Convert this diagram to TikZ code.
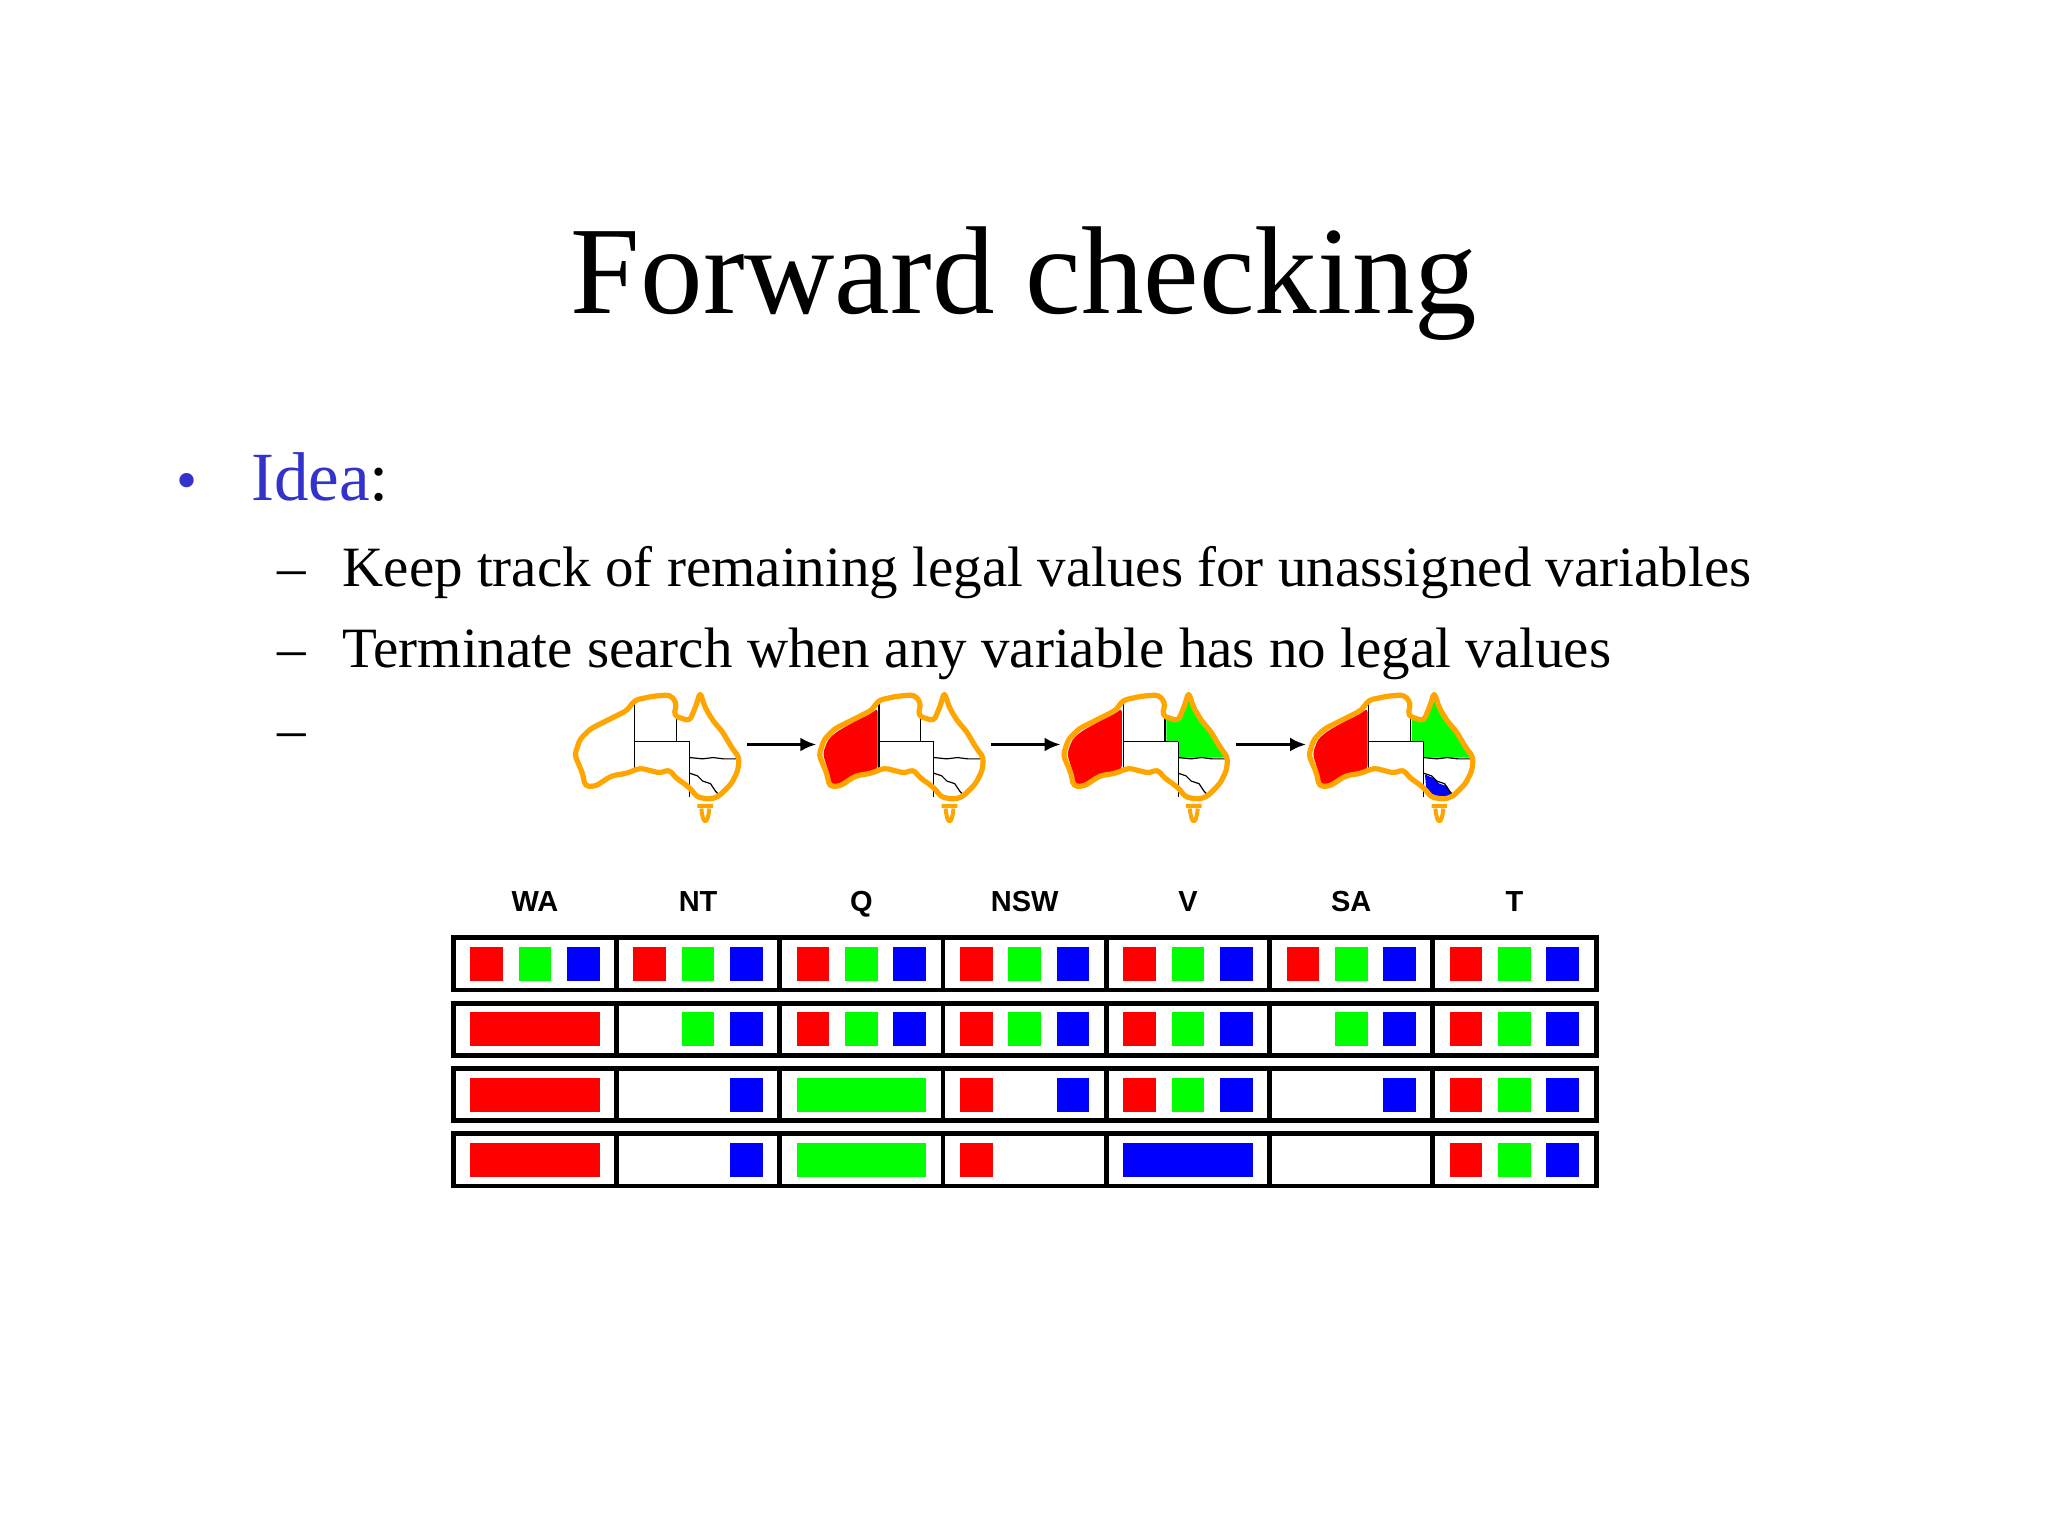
\documentclass[tikz,border=0pt]{standalone}
\usepackage{fontspec}
\setmainfont{Liberation Serif}
\newfontfamily\lsans{Liberation Sans}
\usetikzlibrary{arrows.meta}
\definecolor{ora}{RGB}{255,165,0}
\definecolor{rr}{RGB}{255,0,0}
\definecolor{gg}{RGB}{0,255,0}
\definecolor{bb}{RGB}{0,0,255}
\definecolor{idea}{RGB}{51,51,204}
\newcommand{\mapoutline}{(2,48)--(6,36)--(14,28)--(30,20)--(42,14)--(48,6)--(62,3)--(75,2)--(80,8)--(78,18)--(90,22)--(95,10)--(98,0)--(102,12)--(108,22)--(115,30)--(122,42)--(128,50)--(127,60)--(122,70)--(112,80)--(105,82)--(95,80)--(92,75)--(86,70)--(80,66)--(74,59)--(68,62)--(60,60)--(52,58)--(42,62)--(30,64)--(18,72)--(10,72)--(8,62)--cycle}
\newcommand{\mapborders}{%
 \draw[black,line width=0.6pt] (48,8)--(48,61) (48,38)--(90,38) (80,16)--(80,38) (90,38)--(90,80);
 \draw[black,line width=0.6pt] (90,50)--(100,51)--(108,50)--(116,51)--(127,51);
 \draw[black,line width=0.6pt] (90,62)--(96,64)--(100,68)--(106,70)--(110,76)--(114,80);}
\tikzset{
 mapline/.style={draw=ora,line width=2.6pt,line join=round,rounded corners=2pt},
 cellbox/.style={draw=black,line width=2.4pt},
 lbl/.style={font=\lsans\bfseries\fontsize{14.5}{16}\selectfont},
 mapar/.style={-{Latex[length=8pt,width=7pt]},line width=1.8pt},
 body/.style={anchor=base west,inner sep=0pt,font=\fontsize{28.5}{32}\selectfont}
}
\begin{document}
\begin{tikzpicture}[x=0.653pt,y=-0.653pt]
\useasboundingbox (0,0) rectangle (1568,1176);
\node[anchor=base,font=\fontsize{62.5}{66}\selectfont] (title) at (784,240) {Forward checking};
\node[anchor=base,text=idea,font=\fontsize{30}{32}\selectfont] (bul) at (143,383) {•};
\node[anchor=base west,inner sep=0pt,font=\fontsize{34.5}{38}\selectfont] (idea) at (192,383) {\textcolor{idea}{Idea}:};
\node[body] (d1) at (212,449) {–};
\node[body] (t1) at (262,449) {Keep track of remaining legal values for unassigned variables};
\node[body] (d2) at (212,511) {–};
\node[body] (t2) at (262,511) {Terminate search when any variable has no legal values};
\node[body] (d3) at (212,573) {–};
% maps
\foreach \k/\ox in {0/438,1/625,2/812,3/1000}{
 \begin{scope}[shift={(\ox,530)}]
  \fill[white] \mapoutline;
  \ifnum\k>0
   \fill[rr,rounded corners=2pt] (5,47)--(9,36)--(16,30)--(30,22)--(44,15)--(47,12)--(47,59)--(40,62)--(28,66)--(15,71)--(11,70)--(9,60)--cycle;
  \fi
  \ifnum\k>1
   \fill[gg] (81,18)--(81,38)--(90,38)--(90,50)--(126,50)--(122,42)--(114,30)--(107,22)--(101,10)--(98,2)--(95,12)--(90,22)--cycle;
  \fi
  \ifnum\k>2
   \fill[bb] (91,63)--(98,66)--(102,70)--(108,72)--(112,79)--(104,81)--(95,79)--(92,74)--cycle;
  \fi
  \mapborders
  \draw[mapline] \mapoutline;
  \draw[mapline,line width=2pt] (96,87)--(108,87) (99,89) .. controls (100,102) and (104,102) .. (105,89);
 \end{scope}}
\foreach \a/\b in {572/625,759/812,946/1000}{
 \coordinate (as\a) at (\a,570); \coordinate (ae\a) at (\b,570);
 \draw[mapar] (as\a)--(ae\a);}
% table
\foreach \n [count=\i from 0] in {WA,NT,Q,NSW,V,SA,T}
 \node[lbl,anchor=base] (lab\i) at (347+62.5+125*\i,698) {\n};
\newcommand{\cell}[3]{%
 \begin{scope}[shift={(347+125*#1,#2)}]
  \draw[cellbox] (0,0) rectangle (125,40);
  \foreach \s in {#3}{
   \if\s r\fill[rr] (13,7) rectangle (38,33);\fi
   \if\s g\fill[gg] (50,7) rectangle (75,33);\fi
   \if\s b\fill[bb] (87,7) rectangle (112,33);\fi
   \if\s R\fill[rr] (13,7) rectangle (112,33);\fi
   \if\s G\fill[gg] (13,7) rectangle (112,33);\fi
   \if\s B\fill[bb] (13,7) rectangle (112,33);\fi
  }
 \end{scope}}
\foreach \c in {0,...,6} {\cell{\c}{718}{r,g,b}}
\cell{0}{768}{R}\cell{1}{768}{g,b}\cell{2}{768}{r,g,b}\cell{3}{768}{r,g,b}\cell{4}{768}{r,g,b}\cell{5}{768}{g,b}\cell{6}{768}{r,g,b}
\cell{0}{818}{R}\cell{1}{818}{b}\cell{2}{818}{G}\cell{3}{818}{r,b}\cell{4}{818}{r,g,b}\cell{5}{818}{b}\cell{6}{818}{r,g,b}
\cell{0}{868}{R}\cell{1}{868}{b}\cell{2}{868}{G}\cell{3}{868}{r}\cell{4}{868}{B}\cell{5}{868}{x}\cell{6}{868}{r,g,b}
\end{tikzpicture}
\end{document}
